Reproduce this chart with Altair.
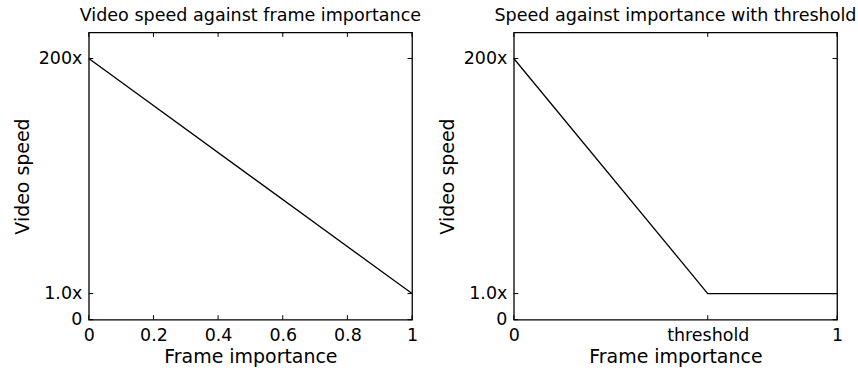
import altair as alt
import pandas as pd

# ---- data ----
importance_left = [0.0, 1.0]
speed_left = [10, 1]            # schematic units: 10 -> "200x", 1 -> "1.0x"
importance_right = [0.0, 0.6, 1.0]
speed_right = [10, 1, 1]

y_tick_values = [0, 1, 10]
y_tick_labels = ["0", "1.0x", "200x"]
x_ticks_left = [0, 0.2, 0.4, 0.6, 0.8, 1]
x_labels_left = ["0", "0.2", "0.4", "0.6", "0.8", "1"]
x_ticks_right = [0, 0.6, 1]
x_labels_right = ["0", "threshold", "1"]

title_left = "Video speed against frame importance"
title_right = "Speed against importance with threshold"
x_title = "Frame importance"
y_title = "Video speed"

W, H = 324, 288
FONT = "DejaVu Sans"
TICK = 4.5


def label_expr(values, labels):
    expr = "''"
    for v, l in reversed(list(zip(values, labels))):
        expr = f"abs(datum.value - {v}) < 1e-9 ? '{l}' : {expr}"
    return expr


def panel(xs, ys, xticks, xlabels, title):
    xscale = alt.Scale(domain=[0, 1], nice=False, zero=False)
    yscale = alt.Scale(domain=[0, 11], nice=False)
    x_axis = alt.Axis(values=xticks, labelExpr=label_expr(xticks, xlabels),
                      title=x_title, ticks=False, domain=False, grid=False,
                      labelFlush=False, labelPadding=7, titlePadding=3)
    y_axis = alt.Axis(values=y_tick_values,
                      labelExpr=label_expr(y_tick_values, y_tick_labels),
                      title=y_title, ticks=False, domain=False, grid=False,
                      labelFlush=False, labelPadding=7, titlePadding=6)
    line_df = pd.DataFrame({"x": xs, "y": ys})
    line = alt.Chart(line_df).mark_line(color="black", strokeWidth=1.3).encode(
        x=alt.X("x:Q", scale=xscale, axis=x_axis),
        y=alt.Y("y:Q", scale=yscale, axis=y_axis),
    )
    xt = pd.DataFrame({"x": xticks})
    yt = pd.DataFrame({"y": y_tick_values})
    bottom = alt.Chart(xt).mark_rule(color="black", strokeWidth=1).encode(
        x=alt.X("x:Q", scale=xscale, axis=x_axis), y=alt.value(H), y2=alt.value(H - TICK))
    top = alt.Chart(xt).mark_rule(color="black", strokeWidth=1).encode(
        x=alt.X("x:Q", scale=xscale, axis=x_axis), y=alt.value(0), y2=alt.value(TICK))
    left = alt.Chart(yt).mark_rule(color="black", strokeWidth=1).encode(
        y=alt.Y("y:Q", scale=yscale, axis=y_axis), x=alt.value(0), x2=alt.value(TICK))
    right = alt.Chart(yt).mark_rule(color="black", strokeWidth=1).encode(
        y=alt.Y("y:Q", scale=yscale, axis=y_axis), x=alt.value(W), x2=alt.value(W - TICK))
    return alt.layer(line, bottom, top, left, right).properties(
        width=W, height=H,
        title=alt.TitleParams(title, baseline="alphabetic", offset=-7),
    )


chart = alt.hconcat(
    panel(importance_left, speed_left, x_ticks_left, x_labels_left, title_left),
    panel(importance_right, speed_right, x_ticks_right, x_labels_right, title_right),
    spacing=102,
    bounds="flush",
).properties(
    padding={"left": 12, "top": 6, "right": 0, "bottom": 0},
    background="white",
).configure(
    font=FONT,
).configure_view(
    stroke="black", strokeWidth=1.3,
).configure_axis(
    labelFont=FONT, titleFont=FONT, labelFontSize=17.5, titleFontSize=19,
    labelColor="black", titleColor="black", titleFontWeight="normal",
).configure_title(
    font=FONT, fontSize=17.6, fontWeight="normal", color="black", anchor="middle",
)

chart.save("out.html", embed_options={"renderer": "svg", "actions": False})
